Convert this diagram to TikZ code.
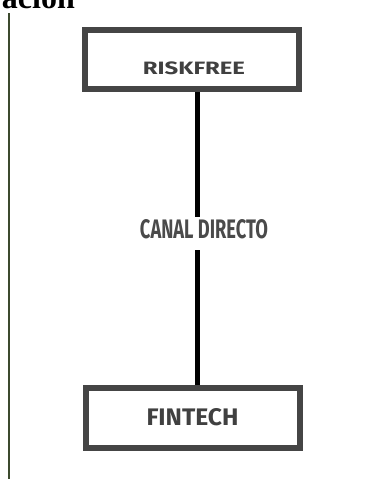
\documentclass[tikz,border=0pt]{standalone}
\usepackage{fontspec}
\usepackage{graphicx}
\setmainfont{Liberation Serif}
\newfontfamily\labelfont{Fira Sans}
\newfontfamily\canalfont{Fira Sans}
\definecolor{boxgray}{HTML}{454545}
\definecolor{textgray}{HTML}{404040}
\definecolor{canalgray}{HTML}{4A4A4A}
\definecolor{rulegreen}{HTML}{3C4A2E}
\begin{document}
\begin{tikzpicture}[x=1pt, y=-1pt,
    box/.style={draw=boxgray, line width=6pt, fill=white, rectangle,
        minimum width=214pt, minimum height=59pt, inner sep=0pt},
    boxtext/.style={text=textgray, inner sep=0pt, anchor=base,
        font=\labelfont\bfseries},
    link/.style={line width=5pt, black}]
    \useasboundingbox (0,0) rectangle (366,479);
    % cut-off heading and left rule
    \node[anchor=base east, inner sep=0pt,
        font=\fontsize{32}{36}\selectfont\bfseries] (titulo) at (75,8.5) {ación};
    \draw[rulegreen, line width=2.5pt] (9,13) -- (9,479);
    % boxes
    \node[box] (risk) at (192,59.5) {};
    \node[boxtext] (risktxt) at (194,74.7) {\resizebox{102pt}{12.7pt}{RISKFREE}};
    \node[box, minimum height=60pt] (fin) at (193,418) {};
    \node[boxtext] (fintxt) at (192.5,425.5) {\resizebox{92pt}{17pt}{FINTECH}};
    % channel
    \node[inner sep=0pt, text=canalgray, text height=21.7pt, text depth=11.3pt,
        font=\canalfont\bfseries] (canal) at (204,233.5)
        {\resizebox{128pt}{19pt}{CANAL DIRECTO}};
    \coordinate (axis) at (197.5,0);
    \draw[link] (risk.south -| axis) -- (canal.north -| axis);
    \draw[link] (canal.south -| axis) -- (fin.north -| axis);
\end{tikzpicture}
\end{document}
